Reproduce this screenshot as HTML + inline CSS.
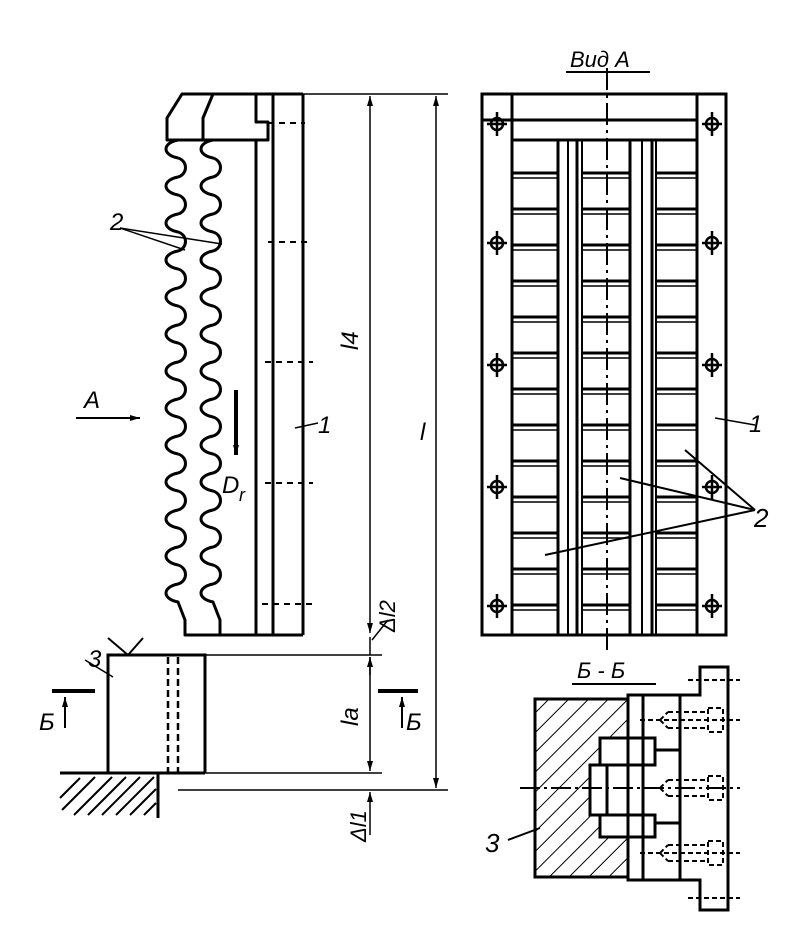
<!DOCTYPE html>
<html><head><meta charset="utf-8"><style>
html,body{margin:0;padding:0;background:#fff;}
svg{display:block}
text{font-family:"Liberation Sans",sans-serif;font-style:italic;fill:#000}
</style></head><body>
<svg width="793" height="944" viewBox="0 0 793 944" xmlns="http://www.w3.org/2000/svg">
<defs>
<pattern id="h" patternUnits="userSpaceOnUse" width="14" height="14" patternTransform="rotate(45)">
<line x1="0" y1="0" x2="0" y2="14" stroke="#000" stroke-width="2"/>
</pattern>
<marker id="a" viewBox="0 0 10 10" refX="10" refY="5" markerWidth="10" markerHeight="10" orient="auto-start-reverse" markerUnits="userSpaceOnUse"><path d="M0,2 L10,5 L0,8 z"/></marker>
</defs>
<g fill="none" stroke="#000" stroke-width="3" stroke-linejoin="round">
<!-- left comb view -->
<path d="M182,94 L167,118 L167,140 L268,140 L268,122 L256,122 L256,94 Z"/>
<line x1="182" y1="94" x2="303" y2="94"/>
<path d="M213,94 L203,118 L203,140"/>
<path d="M178,140 c-16,3 -16,15 0,18 c10,3 10,16 0,19 c-16,3 -16,15 0,18 c10,3 10,16 0,19 c-16,3 -16,15 0,18 c10,3 10,16 0,19 c-16,3 -16,15 0,18 c10,3 10,16 0,19 c-16,3 -16,15 0,18 c10,3 10,16 0,19 c-16,3 -16,15 0,18 c10,3 10,16 0,19 c-16,3 -16,15 0,18 c10,3 10,16 0,19 c-16,3 -16,15 0,18 c10,3 10,16 0,19 c-16,3 -16,15 0,18 c10,3 10,16 0,19 c-16,3 -16,15 0,18 c10,3 10,16 0,19 c-16,3 -16,15 0,18 c10,3 10,16 0,19 c-16,3 -16,15 0,18 c10,3 10,16 0,19 c-16,3 -16,15 0,18 L185,620 L185,635 L303,635"/>
<path d="M213,140 c-16,3 -16,15 0,18 c10,3 10,16 0,19 c-16,3 -16,15 0,18 c10,3 10,16 0,19 c-16,3 -16,15 0,18 c10,3 10,16 0,19 c-16,3 -16,15 0,18 c10,3 10,16 0,19 c-16,3 -16,15 0,18 c10,3 10,16 0,19 c-16,3 -16,15 0,18 c10,3 10,16 0,19 c-16,3 -16,15 0,18 c10,3 10,16 0,19 c-16,3 -16,15 0,18 c10,3 10,16 0,19 c-16,3 -16,15 0,18 c10,3 10,16 0,19 c-16,3 -16,15 0,18 c10,3 10,16 0,19 c-16,3 -16,15 0,18 c10,3 10,16 0,19 c-16,3 -16,15 0,18 c10,3 10,16 0,19 c-16,3 -16,15 0,18 L220,620 L220,635"/>
<line x1="256" y1="140" x2="256" y2="635"/>
<line x1="273" y1="94" x2="273" y2="635"/>
<line x1="303" y1="94" x2="303" y2="635"/>
</g>
<g stroke="#000" stroke-width="2" stroke-dasharray="6,5">
<line x1="268" y1="123" x2="305" y2="123"/>
<line x1="268" y1="242" x2="312" y2="242"/>
<line x1="265" y1="362" x2="313" y2="362"/>
<line x1="265" y1="483" x2="313" y2="483"/>
<line x1="262" y1="604" x2="313" y2="604"/>
</g>
<g stroke="#000" stroke-width="1.5" fill="none">
<!-- dimensions -->
<line x1="303" y1="94" x2="448" y2="94"/>
<line x1="370" y1="96" x2="370" y2="633" marker-start="url(#a)" marker-end="url(#a)"/>
<line x1="436" y1="96" x2="436" y2="788" marker-start="url(#a)" marker-end="url(#a)"/>
<line x1="205" y1="655" x2="382" y2="655"/>
<line x1="205" y1="773" x2="382" y2="773"/>
<line x1="178" y1="790" x2="448" y2="790"/>
<line x1="370" y1="657" x2="370" y2="771" marker-start="url(#a)" marker-end="url(#a)"/>
<line x1="370" y1="835" x2="370" y2="792" marker-end="url(#a)"/>
<line x1="370" y1="675" x2="370" y2="657"/>
<line x1="370" y1="637" x2="370" y2="655"/>
<line x1="372" y1="640" x2="388" y2="620"/>
<!-- leaders -->
<line x1="120" y1="228" x2="185" y2="250"/>
<line x1="120" y1="228" x2="222" y2="244"/>
<line x1="295" y1="428" x2="318" y2="423"/>
<line x1="85" y1="660" x2="113" y2="677"/>
<line x1="76" y1="418" x2="140" y2="418" stroke-width="2" marker-end="url(#a)"/>
<line x1="715" y1="418" x2="755" y2="425"/>
<line x1="685" y1="450" x2="755" y2="510" stroke-width="2"/>
<line x1="620" y1="478" x2="755" y2="510" stroke-width="2"/>
<line x1="545" y1="555" x2="755" y2="510" stroke-width="2"/>
<line x1="508" y1="840" x2="540" y2="828" stroke-width="2"/>
</g>
<line x1="236" y1="390" x2="236" y2="455" stroke="#000" stroke-width="4" marker-end="url(#a)"/>
<!-- block 3 -->
<g fill="none" stroke="#000" stroke-width="3">
<path d="M108,773 L108,655 L205,655 L205,773"/>
<line x1="60" y1="773" x2="205" y2="773"/>
<line x1="158" y1="773" x2="158" y2="818"/>
<path d="M108,638 L128,655 L143,638" stroke-width="2"/>
<line x1="52" y1="691" x2="95" y2="691" stroke-width="4"/>
<line x1="378" y1="691" x2="418" y2="691" stroke-width="4"/>
</g>
<g stroke="#000" stroke-width="2.5" stroke-dasharray="7,4"><line x1="168" y1="657" x2="168" y2="773"/><line x1="178" y1="657" x2="178" y2="773"/></g>
<g stroke="#000" stroke-width="2"><line x1="65" y1="728" x2="65" y2="697" marker-end="url(#a)"/><line x1="402" y1="728" x2="402" y2="697" marker-end="url(#a)"/>
<line x1="62" y1="810" x2="95" y2="777"/><line x1="74" y1="815" x2="112" y2="777"/><line x1="88" y1="815" x2="126" y2="777"/><line x1="102" y1="815" x2="140" y2="777"/><line x1="116" y1="815" x2="154" y2="777"/><line x1="130" y1="815" x2="156" y2="789"/><line x1="144" y1="815" x2="156" y2="803"/><line x1="60" y1="798" x2="80" y2="778"/></g>
<!-- right view A -->
<g fill="none" stroke="#000" stroke-width="3">
<rect x="482" y="94" width="244" height="541"/>
<line x1="512" y1="94" x2="512" y2="635"/>
<line x1="697" y1="94" x2="697" y2="635"/>
<line x1="482" y1="120" x2="697" y2="120"/>
<line x1="512" y1="140" x2="697" y2="140"/>
<line x1="558" y1="140" x2="558" y2="635"/><line x1="568" y1="140" x2="568" y2="635" stroke-width="2"/><line x1="577" y1="140" x2="577" y2="635"/><line x1="582" y1="140" x2="582" y2="635" stroke-width="2"/>
<line x1="630" y1="140" x2="630" y2="635"/><line x1="642" y1="140" x2="642" y2="635" stroke-width="2"/><line x1="652" y1="140" x2="652" y2="635"/><line x1="656" y1="140" x2="656" y2="635" stroke-width="2"/>
</g>
<g stroke="#000" stroke-width="3">
<path d="M512,173H558M582,173H630M656,173H697M512,209H558M582,209H630M656,209H697M512,245H558M582,245H630M656,245H697M512,281H558M582,281H630M656,281H697M512,317H558M582,317H630M656,317H697M512,353H558M582,353H630M656,353H697M512,389H558M582,389H630M656,389H697M512,425H558M582,425H630M656,425H697M512,461H558M582,461H630M656,461H697M512,497H558M582,497H630M656,497H697M512,533H558M582,533H630M656,533H697M512,569H558M582,569H630M656,569H697M512,605H558M582,605H630M656,605H697"/>
</g>
<g stroke="#000" stroke-width="1.5">
<path d="M512,178H558M582,178H630M656,178H697M512,214H558M582,214H630M656,214H697M512,250H558M582,250H630M656,250H697M512,286H558M582,286H630M656,286H697M512,322H558M582,322H630M656,322H697M512,358H558M582,358H630M656,358H697M512,394H558M582,394H630M656,394H697M512,430H558M582,430H630M656,430H697M512,466H558M582,466H630M656,466H697M512,502H558M582,502H630M656,502H697M512,538H558M582,538H630M656,538H697M512,574H558M582,574H630M656,574H697M512,610H558M582,610H630M656,610H697"/>
<line x1="607" y1="68" x2="607" y2="652" stroke-width="2" stroke-dasharray="22,5,3,5"/>
</g>
<g fill="none" stroke="#000" stroke-width="2.5">
<g id="hole"><circle cx="497" cy="124" r="6"/><line x1="487" y1="124" x2="507" y2="124"/><line x1="497" y1="112" x2="497" y2="136"/></g>
<use href="#hole" y="119"/><use href="#hole" y="241"/><use href="#hole" y="363"/><use href="#hole" y="482"/>
<use href="#hole" x="215"/><use href="#hole" x="215" y="119"/><use href="#hole" x="215" y="241"/><use href="#hole" x="215" y="363"/><use href="#hole" x="215" y="482"/>
</g>
<!-- section Б-Б -->
<path d="M535,699 L628,699 L628,738 L600,738 L600,765 L590,765 L590,815 L600,815 L600,837 L628,837 L628,877 L535,877 Z" fill="url(#h)" stroke="#000" stroke-width="3"/>
<g fill="none" stroke="#000" stroke-width="3">
<rect x="628" y="695" width="15" height="185"/>
<path d="M643,695 L680,695 L680,880 L643,880"/>
<rect x="600" y="738" width="55" height="27"/>
<rect x="590" y="765" width="17" height="50"/>
<rect x="600" y="815" width="55" height="22"/>
<line x1="655" y1="750" x2="680" y2="750"/><line x1="655" y1="823" x2="680" y2="823"/>
<path d="M680,695 L700,695 L700,667 L728,667 L728,910 L700,910 L700,880 L680,880"/>
</g>
<g fill="none" stroke="#000" stroke-width="2" stroke-dasharray="5,3">
<path d="M668,712 H708 M668,728 H708 M660,720 l8,-8 M660,720 l8,8 M708,708 h15 v24 h-15 z"/>
<path d="M668,780 H708 M668,796 H708 M660,788 l8,-8 M660,788 l8,8 M708,776 h15 v24 h-15 z"/>
<path d="M668,845 H708 M668,861 H708 M660,853 l8,-8 M660,853 l8,8 M708,841 h15 v24 h-15 z"/>
<line x1="640" y1="720" x2="740" y2="720"/><line x1="640" y1="853" x2="740" y2="853"/>
<line x1="688" y1="680" x2="740" y2="680"/><line x1="688" y1="898" x2="740" y2="898"/>
<line x1="520" y1="788" x2="740" y2="788" stroke-dasharray="20,4,3,4"/>
</g>
<!-- labels -->
<text x="570" y="67" font-size="22">Вид А</text>
<line x1="566" y1="72" x2="650" y2="72" stroke="#000" stroke-width="2"/>
<text x="577" y="678" font-size="22">Б - Б</text>
<line x1="572" y1="684" x2="656" y2="684" stroke="#000" stroke-width="2"/>
<text x="110" y="230" font-size="24">2</text>
<text x="84" y="408" font-size="24">A</text>
<text x="318" y="433" font-size="24">1</text>
<text x="222" y="493" font-size="24">D</text><text x="239" y="501" font-size="18">r</text>
<text x="749" y="432" font-size="24">1</text>
<text x="754" y="527" font-size="26">2</text>
<text x="88" y="667" font-size="24">3</text>
<text x="39" y="730" font-size="24">Б</text>
<text x="406" y="730" font-size="24">Б</text>
<text x="485" y="852" font-size="26">3</text>
<text x="420" y="440" font-size="24">l</text>
<text transform="translate(358,350) rotate(-90)" font-size="24">l4</text>
<text transform="translate(358,726) rotate(-90)" font-size="24">la</text>
<text transform="translate(395,632) rotate(-90)" font-size="22">Δl2</text>
<text transform="translate(366,842) rotate(-90)" font-size="22">Δl1</text>
</svg>
</body></html>
